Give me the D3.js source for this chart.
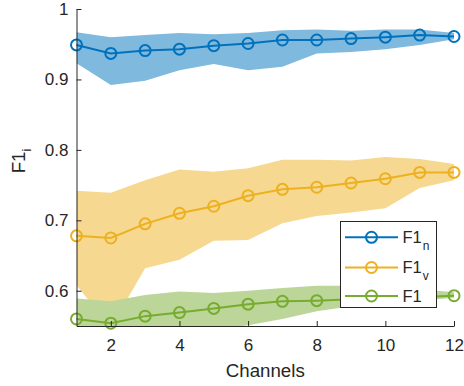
<!DOCTYPE html>
<html>
<head>
<meta charset="utf-8">
<script src="https://cdn.jsdelivr.net/npm/d3@7"></script>
<style>
  html, body { margin: 0; padding: 0; background: #fff; }
  svg { display: block; font-family: "Liberation Sans", Arial, Helvetica, sans-serif; }
</style>
</head>
<body>
<svg id="chart" width="464" height="386"></svg>
<script>
// Number of channels on the x axis
const channels = [1, 2, 3, 4, 5, 6, 7, 8, 9, 10, 11, 12];

// F1_n: mean and spread band
const f1nMean  = [0.949, 0.937, 0.941, 0.943, 0.948, 0.951, 0.956, 0.956, 0.958, 0.960, 0.963, 0.961];
const f1nUpper = [0.967, 0.960, 0.963, 0.966, 0.964, 0.966, 0.970, 0.971, 0.969, 0.971, 0.971, 0.966];
const f1nLower = [0.923, 0.892, 0.898, 0.913, 0.922, 0.913, 0.918, 0.937, 0.939, 0.943, 0.949, 0.957];

// F1_v: mean and spread band
const f1vMean  = [0.678, 0.675, 0.695, 0.710, 0.720, 0.735, 0.744, 0.747, 0.753, 0.759, 0.768, 0.768];
const f1vUpper = [0.742, 0.739, 0.757, 0.772, 0.769, 0.774, 0.786, 0.786, 0.785, 0.790, 0.787, 0.780];
const f1vLower = [0.608, 0.548, 0.632, 0.644, 0.671, 0.672, 0.696, 0.706, 0.711, 0.717, 0.746, 0.757];

// F1: mean and spread band
const f1Mean  = [0.560, 0.554, 0.564, 0.569, 0.575, 0.581, 0.585, 0.586, 0.588, 0.589, 0.591, 0.593];
const f1Upper = [0.589, 0.585, 0.594, 0.599, 0.597, 0.600, 0.604, 0.607, 0.607, 0.605, 0.602, 0.598];
const f1Lower = [0.535, 0.530, 0.535, 0.540, 0.545, 0.551, 0.560, 0.571, 0.578, 0.582, 0.586, 0.590];

// Axis ticks
const xTicks = [2, 4, 6, 8, 10, 12];
const xTickLabels = ["2", "4", "6", "8", "10", "12"];
const yTicks = [0.6, 0.7, 0.8, 0.9, 1];
const yTickLabels = ["0.6", "0.7", "0.8", "0.9", "1"];

const seriesNames = ["n", "v", ""];
const lineColors = ["#0072BD", "#EDB120", "#77AC30"];
const bandColors = ["#80B9DE", "#F6D890", "#BBD698"];

const series = [
  { sub: seriesNames[0], mean: f1nMean, upper: f1nUpper, lower: f1nLower, line: lineColors[0], band: bandColors[0] },
  { sub: seriesNames[1], mean: f1vMean, upper: f1vUpper, lower: f1vLower, line: lineColors[1], band: bandColors[1] },
  { sub: seriesNames[2], mean: f1Mean,  upper: f1Upper,  lower: f1Lower,  line: lineColors[2], band: bandColors[2] }
];

const svg = d3.select("#chart");
const plotLeft = 76.5, plotRight = 454, plotTop = 9, plotBottom = 326;

const x = d3.scaleLinear().domain([1, 12]).range([plotLeft, plotRight]);
const y = d3.scaleLinear().domain([0.55, 1]).range([plotBottom, plotTop]);

svg.append("defs").append("clipPath").attr("id", "plotClip")
  .append("rect").attr("x", plotLeft).attr("y", plotTop)
  .attr("width", plotRight - plotLeft).attr("height", plotBottom - plotTop);

const plot = svg.append("g");

const area = d3.area()
  .x((d, i) => x(channels[i]))
  .y0(d => y(d.lo))
  .y1(d => y(d.hi));

const line = d3.line()
  .x((d, i) => x(channels[i]))
  .y(d => y(d));

series.forEach(s => {
  const bandData = s.mean.map((m, i) => ({ lo: s.lower[i], hi: s.upper[i] }));
  plot.append("path")
    .datum(bandData)
    .attr("clip-path", "url(#plotClip)")
    .attr("fill", s.band)
    .attr("d", area);

  plot.append("path")
    .datum(s.mean)
    .attr("fill", "none")
    .attr("stroke", s.line)
    .attr("stroke-width", 2)
    .attr("d", line);

  plot.selectAll(null)
    .data(s.mean)
    .enter().append("circle")
    .attr("cx", (d, i) => x(channels[i]))
    .attr("cy", d => y(d))
    .attr("r", 5.5)
    .attr("fill", "none")
    .attr("stroke", s.line)
    .attr("stroke-width", 2);
});

// Axes (left and bottom only, ticks pointing inward)
const axisColor = "#262626";

const xAxis = d3.axisBottom(x)
  .tickValues(xTicks)
  .tickFormat((d, i) => xTickLabels[i])
  .tickSizeInner(-5)
  .tickSizeOuter(0)
  .tickPadding(13);

const yAxis = d3.axisLeft(y)
  .tickValues(yTicks)
  .tickFormat((d, i) => yTickLabels[i])
  .tickSizeInner(-5)
  .tickSizeOuter(0)
  .tickPadding(8);

const gx = svg.append("g").attr("transform", `translate(0,${plotBottom})`).call(xAxis);
const gy = svg.append("g").attr("transform", `translate(${plotLeft},0)`).call(yAxis);

[gx, gy].forEach(g => {
  g.select(".domain").attr("stroke", axisColor).attr("stroke-width", 1);
  g.selectAll(".tick line").attr("stroke", axisColor).attr("stroke-width", 1);
  g.selectAll(".tick text")
    .attr("fill", axisColor)
    .style("font-size", "17px")
    .style("font-family", "'Liberation Sans', Arial, sans-serif");
});

// Axis labels
svg.append("text")
  .attr("x", (plotLeft + plotRight) / 2)
  .attr("y", 377)
  .attr("text-anchor", "middle")
  .attr("fill", axisColor)
  .style("font-size", "18.7px")
  .text("Channels");

const yl = svg.append("text")
  .attr("transform", "translate(25,161) rotate(-90)")
  .attr("text-anchor", "middle")
  .attr("fill", axisColor)
  .style("font-size", "18.7px");
yl.append("tspan").text("F1");
yl.append("tspan").attr("dy", 6).style("font-size", "13px").text("i");

// Legend
const lg = svg.append("g");
lg.append("rect")
  .attr("x", 340.5).attr("y", 221.5)
  .attr("width", 96).attr("height", 86)
  .attr("fill", "#fff")
  .attr("stroke", axisColor)
  .attr("stroke-width", 1);

const rowY = [237.3, 267.5, 296];
series.forEach((s, i) => {
  const ry = rowY[i];
  lg.append("line")
    .attr("x1", 345).attr("x2", 398)
    .attr("y1", ry).attr("y2", ry)
    .attr("stroke", s.line).attr("stroke-width", 2);
  lg.append("circle")
    .attr("cx", 371.5).attr("cy", ry).attr("r", 5.5)
    .attr("fill", "none").attr("stroke", s.line).attr("stroke-width", 2);
  const t = lg.append("text")
    .attr("x", 402.5).attr("y", ry + 5.5)
    .attr("fill", axisColor)
    .style("font-size", "16.5px");
  t.append("tspan").text("F1");
  if (s.sub) {
    t.append("tspan").attr("dx", 1).attr("dy", 7).style("font-size", "12px").text(s.sub);
  }
});
</script>
</body>
</html>
